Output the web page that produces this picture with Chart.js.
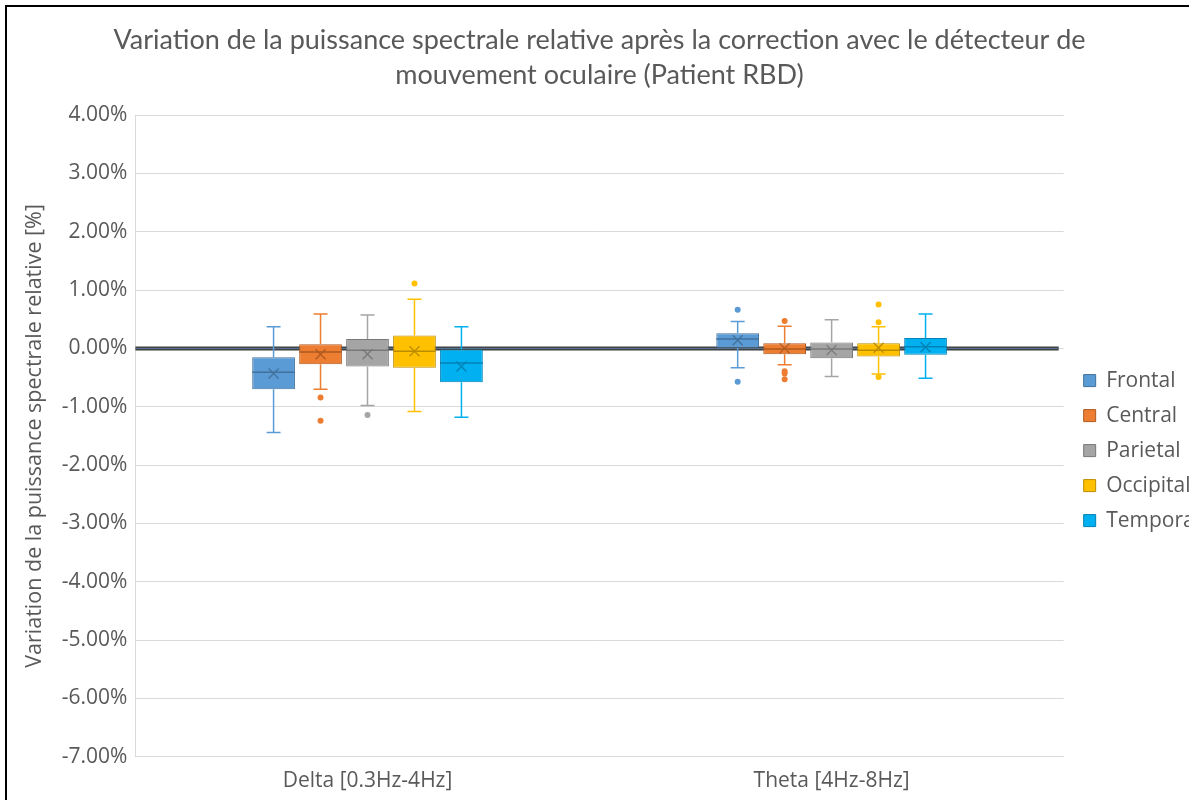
<!DOCTYPE html>
<html>
<head>
<meta charset="utf-8">
<title>Variation de la puissance spectrale relative</title>
<script src="https://cdn.jsdelivr.net/npm/chart.js@4.4.1/dist/chart.umd.min.js"></script>
<style>
  html, body { margin: 0; padding: 0; background: #fff; overflow: hidden; }
  #wrap { position: relative; width: 1189px; height: 800px; overflow: hidden; }
  #chartBox { position: absolute; left: 0; top: 0; width: 1210px; height: 800px; }
  #frame { position: absolute; left: 5px; top: 5px; width: 1300px; height: 900px;
           border-left: 2px solid #000; border-top: 2px solid #000; pointer-events: none; }
</style>
</head>
<body>
<div id="wrap">
  <div id="chartBox"><canvas id="chart"></canvas></div>
  <div id="frame"></div>
</div>
<script>
// categories and series
const categories = ["Delta [0.3Hz-4Hz]", "Theta [4Hz-8Hz]"];
const regions = ["Frontal", "Central", "Parietal", "Occipital", "Temporal"];
const titleLines = ["Variation de la puissance spectrale relative après la correction avec le détecteur de",
                    "mouvement oculaire (Patient RBD)"];

// one row per region, [delta, theta], values in %
const whiskerMin = [[-1.44, -0.33], [-0.70, -0.28], [-0.98, -0.48], [-1.08, -0.44], [-1.18, -0.51]];
const boxQ1      = [[-0.70,  0.01], [-0.27, -0.10], [-0.31, -0.17], [-0.33, -0.14], [-0.58, -0.11]];
const medians    = [[-0.41,  0.16], [-0.06, -0.01], [-0.03, -0.01], [-0.05, -0.03], [-0.25,  0.03]];
const boxQ3      = [[-0.15,  0.26], [ 0.07,  0.09], [ 0.16,  0.10], [ 0.22,  0.09], [-0.02,  0.18]];
const whiskerMax = [[ 0.37,  0.46], [ 0.59,  0.38], [ 0.57,  0.49], [ 0.84,  0.37], [ 0.37,  0.59]];
const means      = [[-0.43,  0.14], [-0.10,  0.00], [-0.10, -0.03], [-0.05,  0.01], [-0.31,  0.02]];
const outliers   = [
  [[], [0.66, -0.57]],
  [[-0.84, -1.24], [0.47, -0.39, -0.43, -0.53]],
  [[-1.14], []],
  [[1.11], [0.75, 0.45, -0.49]],
  [[], []]
];

const yTicks = [4, 3, 2, 1, 0, -1, -2, -3, -4, -5, -6, -7];

const fillColors   = ["#5B9BD5", "#ED7D31", "#A5A5A5", "#FFC000", "#00B0F0"];
const borderColors = ["#41719C", "#AE5A21", "#787878", "#BC8C00", "#0082B4"];
const textColor = "#595959";

let dataSets = regions.map((name, r) => {
  return {
    label: name,
    data: categories.map((c, i) => [boxQ1[r][i], boxQ3[r][i]]),
    backgroundColor: fillColors[r],
    borderColor: borderColors[r],
    borderWidth: 1,
    borderSkipped: false,
    categoryPercentage: 0.506,
    barPercentage: 0.91
  };
});

// title centred over the plot area (like the original), not over the canvas
const plotTitle = {
  id: 'plotTitle',
  afterDraw(chart) {
    const ctx = chart.ctx, area = chart.chartArea;
    const cx = (area.left + area.right) / 2;
    ctx.save();
    ctx.fillStyle = textColor;
    ctx.font = "27px Lato";
    ctx.textAlign = 'center';
    ctx.textBaseline = 'middle';
    ctx.fillText(titleLines[0], cx, 40);
    ctx.fillText(titleLines[1], cx, 75);
    ctx.restore();
  }
};

// zero line behind the boxes
const zeroLine = {
  id: 'zeroLine',
  beforeDatasetsDraw(chart) {
    const ctx = chart.ctx, area = chart.chartArea;
    const y = chart.scales.y.getPixelForValue(0);
    ctx.save();
    ctx.strokeStyle = "#3F3F3F";
    ctx.lineWidth = 4;
    ctx.beginPath(); ctx.moveTo(area.left, y); ctx.lineTo(area.right - 5, y); ctx.stroke();
    ctx.strokeStyle = "#5A7AA0";
    ctx.lineWidth = 1;
    ctx.beginPath(); ctx.moveTo(area.left, y); ctx.lineTo(area.right - 5, y); ctx.stroke();
    ctx.restore();
  }
};

// whiskers, median, mean and outliers on top of the floating bars
const boxExtras = {
  id: 'boxExtras',
  afterDatasetsDraw(chart) {
    const ctx = chart.ctx;
    const yScale = chart.scales.y;
    ctx.save();
    regions.forEach((name, r) => {
      const meta = chart.getDatasetMeta(r);
      meta.data.forEach((bar, i) => {
        const x = bar.x, half = bar.width / 2;
        const yMin = yScale.getPixelForValue(whiskerMin[r][i]);
        const yMax = yScale.getPixelForValue(whiskerMax[r][i]);
        const yQ1 = yScale.getPixelForValue(boxQ1[r][i]);
        const yQ3 = yScale.getPixelForValue(boxQ3[r][i]);
        ctx.strokeStyle = fillColors[r];
        ctx.lineWidth = 1.5;
        ctx.beginPath();
        ctx.moveTo(x, yQ3); ctx.lineTo(x, yMax);
        ctx.moveTo(x - 7, yMax); ctx.lineTo(x + 7, yMax);
        ctx.moveTo(x, yQ1); ctx.lineTo(x, yMin);
        ctx.moveTo(x - 7, yMin); ctx.lineTo(x + 7, yMin);
        ctx.stroke();

        // median
        const yMed = yScale.getPixelForValue(medians[r][i]);
        ctx.strokeStyle = borderColors[r];
        ctx.lineWidth = 1.5;
        ctx.beginPath();
        ctx.moveTo(x - half, yMed); ctx.lineTo(x + half, yMed);
        ctx.stroke();

        // mean marker
        const yMean = yScale.getPixelForValue(means[r][i]);
        ctx.lineWidth = 1.3;
        ctx.beginPath();
        ctx.moveTo(x - 5, yMean - 5); ctx.lineTo(x + 5, yMean + 5);
        ctx.moveTo(x + 5, yMean - 5); ctx.lineTo(x - 5, yMean + 5);
        ctx.stroke();

        // outliers
        ctx.fillStyle = fillColors[r];
        outliers[r][i].forEach((v) => {
          ctx.beginPath();
          ctx.arc(x, yScale.getPixelForValue(v), 3, 0, Math.PI * 2);
          ctx.fill();
        });
      });
    });
    ctx.restore();
  }
};

let chart = new Chart('chart', {
  type: 'bar',
  data: {
    labels: categories,
    datasets: dataSets
  },
  options: {
    responsive: true,
    maintainAspectRatio: false,
    animation: false,
    layout: { padding: { left: 22, top: 115, right: 0, bottom: 2 } },
    plugins: {
      title: { display: false },
      legend: {
        position: 'right',
        title: { display: true, text: ' ', font: { size: 6, lineHeight: 1.2 }, padding: { top: -19, bottom: 0 } },
        labels: {
          color: textColor,
          font: { family: "Open Sans", size: 21 },
          boxWidth: 12,
          boxHeight: 12,
          padding: 14
        }
      },
      tooltip: { enabled: false }
    },
    scales: {
      x: {
        grid: { display: false },
        border: { color: "#D9D9D9" },
        ticks: { color: textColor, font: { family: "Open Sans", size: 21 }, padding: 4 }
      },
      y: {
        min: -7,
        max: 4,
        afterBuildTicks: (axis) => { axis.ticks = yTicks.map(v => ({ value: v })); },
        grid: { color: "#D9D9D9", drawTicks: false },
        border: { color: "#D9D9D9" },
        ticks: {
          color: textColor,
          font: { family: "Open Sans", size: 21 },
          padding: 8,
          callback: (v) => v.toFixed(2) + '%'
        },
        title: {
          display: true,
          text: "Variation de la puissance spectrale relative [%]",
          color: textColor,
          font: { family: "Open Sans", size: 21.5 },
          padding: { top: 0, bottom: 6 }
        }
      },
      // empty axis that only keeps a gap between plot and legend
      gap: {
        position: 'right',
        display: true,
        grid: { display: false },
        border: { display: false },
        ticks: { display: false },
        afterFit: (axis) => { axis.width = 6; }
      }
    }
  },
  plugins: [zeroLine, boxExtras, plotTitle]
});
</script>
</body>
</html>
